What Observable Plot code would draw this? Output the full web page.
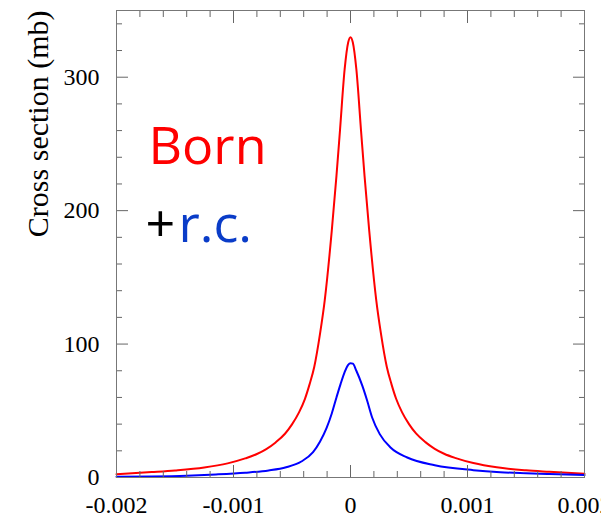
<!DOCTYPE html>
<html><head><meta charset="utf-8">
<script src="https://cdn.jsdelivr.net/npm/d3@7"></script>
<script src="https://cdn.jsdelivr.net/npm/@observablehq/plot@0.6"></script>
<style>
body{margin:0;background:#fff}
#chart svg text{font-family:"Liberation Serif",serif;}
#chart svg text[aria-label="legend"]{font-family:"Open Sans",sans-serif;}
</style>
</head><body><div id="chart"></div>
<script>
// Born cross section (red)
const bornX = [-0.0020,-0.0017,-0.0015,-0.00125,-0.00105,-0.0009,-0.0008,-0.00072,-0.00064,-0.00056,-0.0005,-0.00044,-0.00039,-0.00035,-0.00031,-0.00026,-0.00022,-0.00016,-0.00012,-0.00009,-0.00005,-0.00002,0,0.00002,0.00005,0.00009,0.00012,0.00016,0.00022,0.00026,0.00031,0.00035,0.00039,0.00044,0.0005,0.00056,0.00064,0.00072,0.0008,0.0009,0.00105,0.00125,0.0015,0.0017,0.0020];
const bornY = [2.5,4.1,5.3,7.5,10.6,14.3,17.6,21.3,26.3,32.8,39.8,48.8,58.8,69.8,82.8,108,133,185,226,260,306,326,330,326,306,260,226,185,133,108,83,70,59,49,40,33,26.5,21.5,17.8,14.5,10.8,7.6,5.4,4.3,2.8];
// with radiative corrections (blue)
const rcX = [-0.0020,-0.0017,-0.0014,-0.00115,-0.0009,-0.0007,-0.00055,-0.00042,-0.00032,-0.00026,-0.000205,-0.00016,-0.00012,-0.000085,-0.00005,-0.00002,0,0.00002,0.00005,0.0001,0.000142,0.000185,0.00025,0.000342,0.000485,0.00072,0.00105,0.00128,0.0015,0.0017,0.0020];
const rcY = [0.5,0.8,1.4,2.3,3.6,5.3,7.7,12.0,19,27,37,48,60,70,79,84.5,85.7,85.3,80,69,57.7,45,32.5,22.5,15,9.2,5.5,4.0,3.2,2.6,1.8];

const xMajor = [-0.002,-0.001,0,0.001,0.002];
const xTickLabels = ["-0.002","-0.001","0","0.001","0.002"];
const xMinor = [-0.0018,-0.0016,-0.0014,-0.0012,-0.0008,-0.0006,-0.0004,-0.0002,0.0002,0.0004,0.0006,0.0008,0.0012,0.0014,0.0016,0.0018];
const yMajor = [0,100,200,300];
const yTickLabels = ["0","100","200","300"];
const yMinor = [20,40,60,80,120,140,160,180,220,240,260,280,320,340];

const born = bornX.map((x,i)=>({x, y: bornY[i]}));
const rc = rcX.map((x,i)=>({x, y: rcY[i]}));

const tickColor = "#666";
const serif = "Liberation Serif";
const sans = "Open Sans";

const chart = Plot.plot({
  width: 601, height: 522,
  marginLeft: 116, marginRight: 17, marginTop: 10, marginBottom: 45,
  style: {fontFamily: serif, background: "#fff", overflow: "hidden"},
  x: {domain: [-0.002, 0.002]},
  y: {domain: [0, 350]},
  marks: [
    Plot.line(born, {x: "x", y: "y", stroke: "#ff0000", strokeWidth: 2, curve: "monotone-x"}),
    Plot.line(rc, {x: "x", y: "y", stroke: "#0000ff", strokeWidth: 2, curve: "monotone-x"}),
    // bottom axis
    Plot.axisX({anchor: "bottom", ticks: xMajor, tickSize: -12, tickPadding: 30, stroke: tickColor,
      tickFormat: (d) => xTickLabels[xMajor.indexOf(d)], fontSize: 24, fontFamily: serif, fill: "#000", label: null}),
    Plot.axisX({anchor: "bottom", ticks: xMinor, tickSize: -6, stroke: tickColor, tickFormat: () => "", label: null}),
    Plot.axisX({anchor: "top", ticks: xMajor, tickSize: -12, stroke: tickColor, tickFormat: () => "", label: null}),
    Plot.axisX({anchor: "top", ticks: xMinor, tickSize: -6, stroke: tickColor, tickFormat: () => "", label: null}),
    // left axis
    Plot.axisY({anchor: "left", ticks: yMajor, tickSize: -12, tickPadding: 29, stroke: tickColor,
      tickFormat: (d) => yTickLabels[yMajor.indexOf(d)], fontSize: 24, fontFamily: serif, fill: "#000", label: null}),
    Plot.axisY({anchor: "left", ticks: yMinor, tickSize: -6, stroke: tickColor, tickFormat: () => "", label: null}),
    Plot.axisY({anchor: "right", ticks: yMajor, tickSize: -12, stroke: tickColor, tickFormat: () => "", label: null}),
    Plot.axisY({anchor: "right", ticks: yMinor, tickSize: -6, stroke: tickColor, tickFormat: () => "", label: null}),
    Plot.frame({stroke: "#777"}),
    // y axis title
    Plot.text(["Cross section (mb)"], {frameAnchor: "top-left", dx: -78, rotate: -90, textAnchor: "end",
      lineAnchor: "middle", fontSize: 30, fontFamily: serif, fill: "#000"}),
    // in-plot labels
    Plot.text(["Born"], {frameAnchor: "top-left", dx: 32, dy: 137, textAnchor: "start", lineAnchor: "middle",
      fontSize: 52, fontFamily: sans, fill: "#ff0000", ariaLabel: () => "legend"}),
    Plot.text(["+"], {frameAnchor: "top-left", dx: 29, dy: 215, textAnchor: "start", lineAnchor: "middle",
      fontSize: 52, fontFamily: sans, fill: "#000", ariaLabel: () => "legend"}),
    Plot.text(["r.c."], {frameAnchor: "top-left", dx: 62, dy: 215, textAnchor: "start", lineAnchor: "middle",
      fontSize: 52, fontFamily: sans, fill: "#0a3cc8", ariaLabel: () => "legend"})
  ]
});
document.getElementById("chart").appendChild(chart);
</script>
</body></html>
